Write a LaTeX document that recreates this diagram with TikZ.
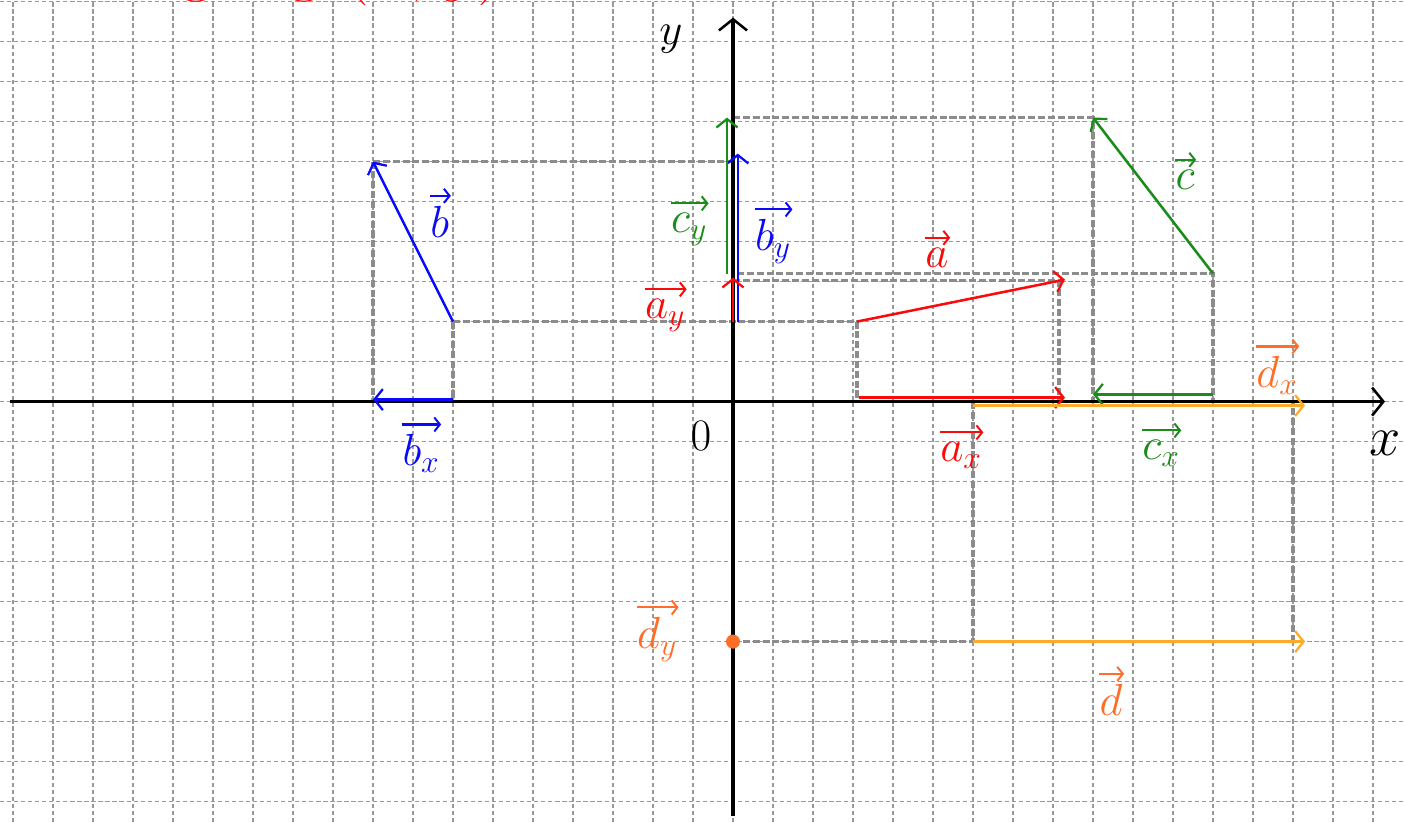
\RequirePackage{fix-cm}
\documentclass[tikz,border=0pt]{standalone}
\usetikzlibrary{arrows.meta}
\definecolor{vblue}{RGB}{10,10,250}
\definecolor{vgreen}{RGB}{25,140,25}
\definecolor{vred}{RGB}{250,10,10}
\definecolor{vorange}{RGB}{255,170,40}
\definecolor{torange}{RGB}{255,110,40}
\tikzset{
	gridline/.style={black!40, line width=0.9pt, dash pattern=on 3pt off 2pt},
	proj/.style={black!45, line width=2.4pt, dash pattern=on 5pt off 2pt},
	vec/.style={line width=1.8pt, -{Straight Barb[length=6pt,width=15pt,line width=1.6pt]}},
	axis/.style={line width=2.2pt, -{Straight Barb[length=8pt,width=20pt,line width=1.8pt]}},
	hatmark/.style={line width=1.5pt, shorten <=1pt, -{Straight Barb[length=4pt,width=10pt,line width=1.4pt]}},
	vlbl/.style={#1, font=\fontsize{32}{36}\selectfont, inner sep=1pt,
		append after command={([yshift=6pt]\tikzlastnode.north west) edge[hatmark, #1] ([yshift=6pt]\tikzlastnode.north east)}},
}
\begin{document}
\begin{tikzpicture}
	\useasboundingbox (-18.325,-10.51) rectangle (16.8,10.04);
	\fill[white] (-18.325,-10.51) rectangle (16.8,10.04);
	\draw[gridline] (-18.325,-10.51) grid (16.8,10.04);
	
	% heading, mostly above the page
	\node[vred, font=\fontsize{52}{56}\selectfont, anchor=base] (head) at (-11.6,10.35) {Zerlegung $(x;y)$};
	
	% points
	\coordinate (O) at (0,0);
	\coordinate (bS) at (-7,2);
	\coordinate (bE) at (-9,6);
	\coordinate (cS) at (12,3.2);
	\coordinate (cE) at (9,7.1);
	\coordinate (aS) at (3.1,2);
	\coordinate (aE) at (8.3,3.05);
	\coordinate (dS) at (6,-6);
	\coordinate (dE) at (14.3,-6);
	
	% projections
	\draw[proj] (bE) -- (0,6);
	\draw[proj] (bE) -- (-9,0);
	\draw[proj] (bS) -- (aS);
	\draw[proj] (bS) -- (-7,0);
	\draw[proj] (0,7.1) -- (cE) -- (9,0);
	\draw[proj] (0.1,3.2) -- (cS) -- (12,0);
	\draw[proj] (aS) -- (3.1,0);
	\draw[proj] (0,3.02) -- (8.15,3.02) -- (8.15,0);
	\draw[proj] (0,-6) -- (dS) -- (6,0);
	\draw[proj] (14,-6) -- (14,0);
	
	% axes
	\draw[axis] (-18.08,0) -- (16.3,0);
	\draw[axis] (0,-10.35) -- (0,9.6);
	\node[font=\fontsize{40}{44}\selectfont] (lx) at (16.3,-1.05) {$x$};
	\node[font=\fontsize{32}{36}\selectfont] (ly) at (-1.55,9.05) {$y$};
	\node[font=\fontsize{32}{36}\selectfont] (lo) at (-0.8,-0.85) {$0$};
	
	% vector b
	\draw[vec, vblue] (bS) -- (bE);
	\draw[vec, vblue] (-7,0.05) -- (-9,0.05);
	\draw[vec, vblue] (0.12,2) -- (0.12,6.2);
	\node[vlbl=vblue] (lb) at (-7.33,4.5) {$b$};
	\node[vlbl=vblue] (lbx) at (-7.8,-1.3) {$b_x$};
	\node[vlbl=vblue] (lby) at (1.0,4.0) {$b_y$};
	
	% vector c
	\draw[vec, vgreen] (cS) -- (cE);
	\draw[vec, vgreen] (12,0.18) -- (9,0.18);
	\draw[vec, vgreen] (-0.15,3.2) -- (-0.15,7.1);
	\node[vlbl=vgreen] (lc) at (11.3,5.55) {$c$};
	\node[vlbl=vgreen] (lcx) at (10.7,-1.3) {$c_x$};
	\node[vlbl=vgreen] (lcy) at (-1.1,4.3) {$c_y$};
	
	% vector a
	\draw[vec, vred] (aS) -- (aE);
	\draw[vec, vred] (3.15,0.1) -- (8.3,0.1);
	\draw[vec, vred] (0,2) -- (0,3.1);
	\node[vlbl=vred] (la) at (5.1,3.6) {$a$};
	\node[vlbl=vred] (lax) at (5.7,-1.35) {$a_x$};
	\node[vlbl=vred] (lay) at (-1.7,2.15) {$a_y$};
	
	% vector d
	\draw[vec, vorange] (dS) -- (dE);
	\draw[vec, vorange] (6,-0.1) -- (14.3,-0.1);
	\fill[torange] (0,-6) circle (5pt);
	\node[vlbl=torange] (ld) at (9.45,-7.45) {$d$};
	\node[vlbl=torange] (ldx) at (13.6,0.65) {$d_x$};
	\node[vlbl=torange] (ldy) at (-1.9,-5.95) {$d_y$};
\end{tikzpicture}
\end{document}
